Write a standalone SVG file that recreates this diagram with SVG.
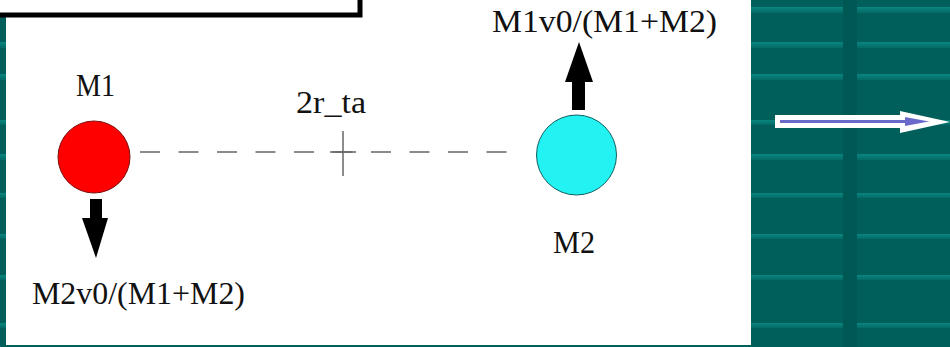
<svg xmlns="http://www.w3.org/2000/svg" width="950" height="347" viewBox="0 0 950 347">
  <style>
    .lbl { font-family: "Liberation Serif", "Times New Roman", serif; font-size: 32px; fill: #111; }
    .stripe { fill: url(#stripeGrad); }
    .black-arrow { fill: #000; }
  </style>
  <defs>
    <linearGradient id="stripeGrad" x1="0" y1="0" x2="0" y2="1">
      <stop offset="0" stop-color="#0A8680"/>
      <stop offset="1" stop-color="#046A66"/>
    </linearGradient>
  </defs>

  <!-- background -->
  <g id="background">
    <rect x="0" y="0" width="950" height="347" fill="#005E5B"/>
    <g class="stripes">
      <rect class="stripe" x="0" y="7" width="950" height="6"/>
      <rect class="stripe" x="0" y="42" width="950" height="6"/>
      <rect class="stripe" x="0" y="74" width="950" height="6"/>
      <rect class="stripe" x="0" y="120" width="950" height="5"/>
      <rect class="stripe" x="0" y="154" width="950" height="6"/>
      <rect class="stripe" x="0" y="193" width="950" height="5"/>
      <rect class="stripe" x="0" y="234" width="950" height="5"/>
      <rect class="stripe" x="0" y="275" width="950" height="5"/>
      <rect class="stripe" x="0" y="323" width="950" height="5"/>
    </g>
    <rect x="843" y="0" width="14" height="347" fill="#005855"/>
  </g>

  <!-- white panel -->
  <rect id="panel" x="6" y="0" width="745" height="345" fill="#FFFFFF"/>

  <!-- top-left box -->
  <rect id="title-box" x="-10" y="-10" width="370" height="25" fill="#FFFFFF" stroke="#000" stroke-width="5"/>

  <!-- connectors -->
  <g id="connectors">
    <line x1="140" y1="152" x2="507" y2="152" stroke="#666" stroke-width="1.5" stroke-dasharray="20 18.5"/>
    <line x1="343" y1="131" x2="343" y2="176" stroke="#666" stroke-width="1.5"/>
    <line x1="330" y1="152" x2="356" y2="152" stroke="#666" stroke-width="1.5"/>
    <g id="v1-arrow" class="black-arrow">
      <rect x="90" y="199" width="12" height="20"/>
      <polygon points="82,218 108,218 96,258"/>
    </g>
    <g id="v2-arrow" class="black-arrow">
      <rect x="572" y="81" width="13" height="29"/>
      <polygon points="565,82 593,82 579,42"/>
    </g>
    <g id="next-arrow">
      <rect x="775" y="115" width="126" height="13" fill="#FFFFFF"/>
      <polygon points="900,111 950,122 900,133" fill="#FFFFFF"/>
      <rect x="780" y="120" width="126" height="3" fill="#6A6ACC"/>
      <polygon points="905,117 929,121.5 905,126" fill="#6A6ACC"/>
    </g>
  </g>

  <!-- nodes -->
  <g id="m1">
    <circle cx="94" cy="157" r="36" fill="#FF0000" stroke="#7A1010" stroke-width="1"/>
    <text class="lbl" x="76" y="96" textLength="39" lengthAdjust="spacingAndGlyphs">M1</text>
  </g>
  <g id="m2">
    <circle cx="576.5" cy="155" r="40" fill="#22F2F2" stroke="#106060" stroke-width="1"/>
    <text class="lbl" x="553" y="253" textLength="42" lengthAdjust="spacingAndGlyphs">M2</text>
  </g>
  <g id="label-distance">
    <text class="lbl" x="296" y="113" textLength="70" lengthAdjust="spacingAndGlyphs">2r_ta</text>
  </g>
  <g id="label-v2">
    <text class="lbl" x="492" y="32" textLength="225" lengthAdjust="spacingAndGlyphs">M1v0/(M1+M2)</text>
  </g>
  <g id="label-v1">
    <text class="lbl" x="32" y="304" textLength="213" lengthAdjust="spacingAndGlyphs">M2v0/(M1+M2)</text>
  </g>
</svg>
